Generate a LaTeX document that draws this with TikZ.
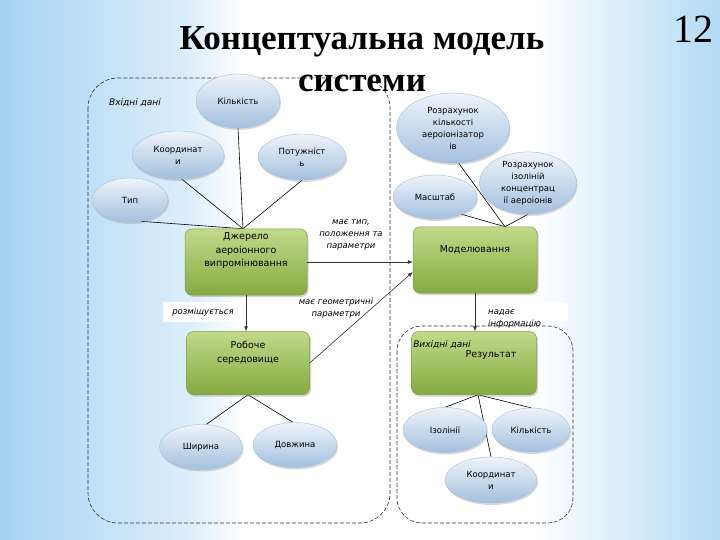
\documentclass[tikz,border=0pt]{standalone}
\usepackage{fontspec}
\setmainfont{DejaVu Sans}
\newfontfamily\titlefont{Liberation Serif}
\usetikzlibrary{shapes.geometric,shadows,arrows.meta}
\definecolor{bgblue}{HTML}{A6D3F4}
\definecolor{bgblue2}{HTML}{B2DAF6}
\definecolor{boxtop}{HTML}{C0DA8A}
\definecolor{boxbot}{HTML}{86AA42}
\definecolor{boxline}{HTML}{7C9C3C}
\definecolor{elltop}{HTML}{EEF4FB}
\definecolor{ellbot}{HTML}{A3C0DE}
\definecolor{ellline}{HTML}{A3BDD8}
\pgfdeclarelayer{bg}
\pgfdeclarelayer{lines}
\pgfsetlayers{bg,lines,main}
\pgfdeclarehorizontalshading{bgh}{100bp}{color(0bp)=(bgblue); color(25bp)=(bgblue); color(38bp)=(white!60!bgblue); color(42bp)=(white); color(62bp)=(white); color(75bp)=(bgblue2); color(100bp)=(bgblue2)}
\tikzset{
  ell/.style={ellipse, draw=ellline, line width=0.4pt, top color=elltop, bottom color=ellbot,
    drop shadow={shadow xshift=1pt, shadow yshift=-2pt, opacity=0.3},
    align=center, inner sep=0pt, font=\fontsize{8.5}{12}\selectfont},
  greenbox/.style={rectangle, rounded corners=7pt, draw=boxline, line width=0.5pt,
    top color=boxtop, bottom color=boxbot,
    drop shadow={shadow xshift=1.5pt, shadow yshift=-2pt, opacity=0.35}},
  boxtext/.style={align=center, inner sep=0pt, font=\fontsize{9.5}{13.5}\selectfont},
  lbl/.style={align=center, inner sep=1pt, font=\fontsize{8.5}{12}\selectfont\itshape},
  conn/.style={line width=0.6pt, black},
  arr/.style={line width=0.6pt, black!80, -{Latex[length=5pt,width=4pt]}},
  region/.style={line width=0.6pt, black!80, dash pattern=on 4pt off 2pt},
  titletext/.style={font=\titlefont\fontsize{35}{43}\bfseries, anchor=base, inner sep=0pt}
}
\begin{document}
\begin{tikzpicture}[x=1pt,y=-1pt]
\useasboundingbox (0,0) rectangle (720,540);
\begin{pgfonlayer}{bg}
  \shade[shading=bgh] (0,0) rectangle (720,540);
\end{pgfonlayer}

% regions
\draw[region] (88,78) [rounded corners=30pt] -- (88,523) -- (390,523) -- (390,78) -- cycle;
\draw[region] (397,326) [rounded corners=25pt] -- (397,523) -- (573,523) -- (573,326) -- cycle;
\fill[white] (163,302) rectangle (247,322);
\fill[white] (487,302) rectangle (568,322);

\node[lbl, font=\fontsize{9}{12}\selectfont\itshape] (vhid) at (135,103) {Вхідні дані};

% green boxes
\node[greenbox, minimum width=122pt, minimum height=66pt] (dz) at (246,262) {};
\node[boxtext] (dzt) at ([yshift=11pt]dz.center) {Джерело\\аероіонного\\випромінювання};
\node[greenbox, minimum width=124pt, minimum height=66pt] (mod) at (475,260) {};
\node[boxtext] (modt) at ([yshift=10pt]mod.center) {Моделювання};
\node[greenbox, minimum width=123pt, minimum height=63pt] (rob) at (248,363) {};
\node[boxtext] (robt) at ([yshift=10pt]rob.center) {Робоче\\середовище};
\node[greenbox, minimum width=125pt, minimum height=63pt] (rez) at (474,363) {};
\node[boxtext] (rezt) at ([xshift=17pt,yshift=8pt]rez.center) {Результат};
\node[lbl, font=\fontsize{9}{12}\selectfont\itshape] (vyh) at (442,345) {Вихідні дані};

% ellipses
\node[ell, minimum width=84pt, minimum height=54pt] (kilk) at (238,101) {Кількість};
\node[ell, minimum width=92pt, minimum height=48pt] (koord) at (178,155) {Координат\\и};
\node[ell, minimum width=88pt, minimum height=46pt] (potu) at (302,157) {Потужніст\\ь};
\node[ell, minimum width=76pt, minimum height=44pt] (typ) at (130,200) {Тип};
\node[ell, minimum width=113pt, minimum height=70pt] (rkil) at (453,128) {Розрахунок\\кількості\\аероіонізатор\\ів};
\node[ell, minimum width=84pt, minimum height=44pt] (masht) at (435,197) {Масштаб};
\node[ell, minimum width=97pt, minimum height=54pt] (riz) at (528,183) {Розрахунок\\ізоліній\\концентрац\\ії аероіонів};
\node[ell, minimum width=83pt, minimum height=45pt] (shyr) at (201,447) {Ширина};
\node[ell, minimum width=84pt, minimum height=45pt] (dovzh) at (295,445) {Довжина};
\node[ell, minimum width=84pt, minimum height=45pt] (izol) at (445,430) {Ізолінії};
\node[ell, minimum width=78pt, minimum height=44pt] (kilk2) at (531,430) {Кількість};
\node[ell, minimum width=92pt, minimum height=46pt] (koord2) at (491,480) {Координат\\и};

% connectors behind shapes
\begin{pgfonlayer}{lines}
  \coordinate (cdz) at ([xshift=-3pt]dz.north);
  \draw[conn] (cdz) -- (typ.-63);
  \draw[conn] (cdz) -- (koord.-81);
  \draw[conn] (cdz) -- (kilk.south);
  \draw[conn] (cdz) -- (potu.south);
  \coordinate (cmod) at ([xshift=30pt]mod.north);
  \draw[conn] (cmod) -- (rkil.-81);
  \draw[conn] (cmod) -- (masht.-33);
  \draw[conn] (cmod) -- (riz.south);
  \coordinate (crez) at ([xshift=4pt]rez.south);
  \draw[conn] (crez) -- (izol.north);
  \draw[conn] (crez) -- (kilk2.north);
  \draw[conn] (crez) -- (koord2.north);
  \draw[conn] (rob.south) -- (shyr.77);
  \draw[conn] (rob.south) -- (dovzh.95);
\end{pgfonlayer}

% arrows
\draw[arr] (dz.east) -- (dz.east -| mod.west);
\draw[arr] (rob.east) -- ([yshift=-12pt]mod.west);
\draw[arr] (dz.south) -- (dz.south |- rob.north);
\draw[arr] (mod.south) -- (mod.south |- rez.north);

% labels
\node[lbl] (l1) at (351,235) {має тип,\\положення та\\параметри};
\node[lbl] (l2) at (336,308) {має геометричні\\параметри};
\node[lbl] (l3) at (203,312) {розміщується};
\node[lbl, align=left, anchor=west] (l4) at (487,319) {надає\\інформацію};

% title
\node[titletext] (title1) at (362,50) {Концептуальна модель};
\node[titletext] (title2) at (362,92) {системи};
\node[font=\titlefont\fontsize{40}{40}\selectfont] (num) at (693,29) {12};
\end{tikzpicture}
\end{document}
